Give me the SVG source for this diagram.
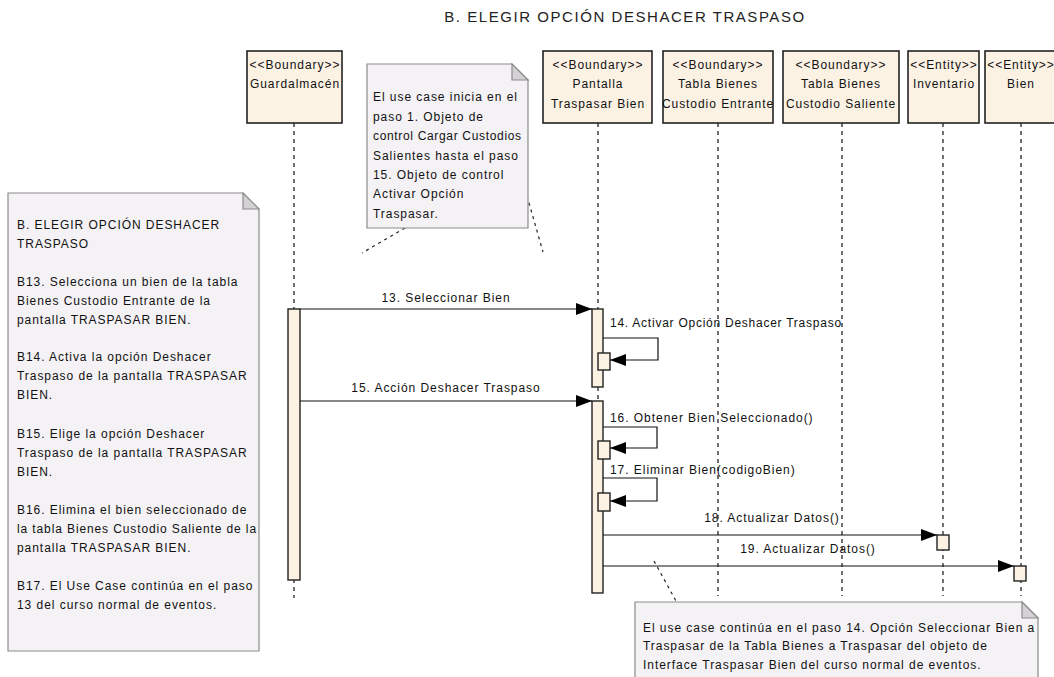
<svg xmlns="http://www.w3.org/2000/svg" width="1054" height="677" viewBox="0 0 1054 677">
  <style>
    text { font-family: "Liberation Sans", Arial, sans-serif; font-size: 12px; letter-spacing: 0.95px; fill: #111; }
    .title { font-size: 15px; letter-spacing: 1.55px; fill: #222; }
    .c { text-anchor: middle; }
    .head { fill: #FCF2E4; stroke: #222; stroke-width: 1.6; }
    .act { fill: #FCF2E4; stroke: #222; stroke-width: 1.4; }
    .life { stroke: #111; stroke-width: 1.2; stroke-dasharray: 4 4; fill: none; }
    .msg { stroke: #111; stroke-width: 1.2; fill: none; marker-end: url(#arrow); }
    .note { fill: #F4F2F5; stroke: #8C8C8C; stroke-width: 1.2; }
    .fold { fill: #D3D1D4; stroke: #8C8C8C; stroke-width: 1.2; }
    .anchor { stroke: #222; stroke-width: 1.2; stroke-dasharray: 3 4; fill: none; }
  </style>
  <defs>
    <marker id="arrow" viewBox="0 0 16 12" refX="16" refY="6" markerWidth="16" markerHeight="12" markerUnits="userSpaceOnUse" orient="auto">
      <path d="M0,0 L16,6 L0,12 z" fill="#000"/>
    </marker>
  </defs>

  <rect width="1054" height="677" fill="#FFFFFF"/>

  <text class="title c" x="625" y="22">B. ELEGIR OPCIÓN DESHACER TRASPASO</text>

  <!-- lifelines -->
  <g id="lifelines">
    <line class="life" x1="294" y1="123" x2="294" y2="598"/>
    <line class="life" x1="598" y1="123" x2="598" y2="594"/>
    <line class="life" x1="718" y1="123" x2="718" y2="596"/>
    <line class="life" x1="842" y1="123" x2="842" y2="596"/>
    <line class="life" x1="943" y1="123" x2="943" y2="596"/>
    <line class="life" x1="1021" y1="123" x2="1021" y2="596"/>
  </g>

  <!-- participants -->
  <g id="guardalmacen">
    <rect class="head" x="247" y="51" width="95" height="72"/>
    <text class="c" x="295" y="69">&lt;&lt;Boundary&gt;&gt;</text>
    <text class="c" x="295" y="88">Guardalmacén</text>
  </g>
  <g id="pantalla-traspasar-bien">
    <rect class="head" x="543" y="51" width="109" height="72"/>
    <text class="c" x="598" y="69">&lt;&lt;Boundary&gt;&gt;</text>
    <text class="c" x="598" y="88">Pantalla</text>
    <text class="c" x="598" y="108">Traspasar Bien</text>
  </g>
  <g id="tabla-custodio-entrante">
    <rect class="head" x="663" y="51" width="110" height="72"/>
    <text class="c" x="718" y="69">&lt;&lt;Boundary&gt;&gt;</text>
    <text class="c" x="718" y="88">Tabla Bienes</text>
    <text class="c" x="718" y="108">Custodio Entrante</text>
  </g>
  <g id="tabla-custodio-saliente">
    <rect class="head" x="783" y="51" width="116" height="72"/>
    <text class="c" x="841" y="69">&lt;&lt;Boundary&gt;&gt;</text>
    <text class="c" x="841" y="88">Tabla Bienes</text>
    <text class="c" x="841" y="108">Custodio Saliente</text>
  </g>
  <g id="inventario">
    <rect class="head" x="908" y="51" width="71" height="72"/>
    <text class="c" x="944" y="69">&lt;&lt;Entity&gt;&gt;</text>
    <text class="c" x="944" y="88">Inventario</text>
  </g>
  <g id="bien">
    <rect class="head" x="985" y="51" width="73" height="72"/>
    <text class="c" x="1021" y="69">&lt;&lt;Entity&gt;&gt;</text>
    <text class="c" x="1021" y="88">Bien</text>
  </g>

  <!-- activations -->
  <g id="activations">
    <rect class="act" x="288" y="309" width="12" height="271"/>
    <rect class="act" x="592" y="309" width="11" height="78"/>
    <rect class="act" x="592" y="401" width="11" height="192"/>
    <rect class="act" x="598" y="353" width="12" height="17"/>
    <rect class="act" x="598" y="441" width="12" height="18"/>
    <rect class="act" x="598" y="493" width="12" height="18"/>
    <rect class="act" x="937" y="535" width="12" height="15"/>
    <rect class="act" x="1014" y="566" width="12" height="15"/>
  </g>

  <!-- messages -->
  <g id="connectors">
    <line class="msg" x1="300" y1="309" x2="592" y2="309"/>
    <text class="c" x="446" y="302">13. Seleccionar Bien</text>

    <path class="msg" d="M603,338 H658 V360 H610"/>
    <text x="610" y="327" textLength="232">14. Activar Opción Deshacer Traspaso</text>

    <line class="msg" x1="300" y1="401" x2="592" y2="401"/>
    <text class="c" x="446" y="392">15. Acción Deshacer Traspaso</text>

    <path class="msg" d="M603,427 H657 V448 H610"/>
    <text x="610" y="422">16. Obtener Bien Seleccionado()</text>

    <path class="msg" d="M603,478 H657 V501 H610"/>
    <text x="610" y="474">17. Eliminar Bien(codigoBien)</text>

    <line class="msg" x1="603" y1="535" x2="937" y2="535"/>
    <text class="c" x="772" y="522">18. Actualizar Datos()</text>

    <line class="msg" x1="603" y1="566" x2="1014" y2="566"/>
    <text class="c" x="808" y="553">19. Actualizar Datos()</text>

    <!-- note anchors -->
    <line class="anchor" x1="405" y1="228" x2="362" y2="253"/>
    <line class="anchor" x1="527" y1="196" x2="543" y2="252"/>
    <line class="anchor" x1="654" y1="561" x2="676" y2="601"/>
  </g>

  <!-- notes -->
  <g id="note-flujo">
    <path class="note" d="M8,193 H243 L259,209 V651 H8 Z"/>
    <path class="fold" d="M243,193 V209 H259 Z"/>
    <text x="17" y="229">B. ELEGIR OPCIÓN DESHACER</text>
    <text x="17" y="248">TRASPASO</text>
    <text x="17" y="286">B13. Selecciona un bien de la tabla</text>
    <text x="17" y="305">Bienes Custodio Entrante de la</text>
    <text x="17" y="324">pantalla TRASPASAR BIEN.</text>
    <text x="17" y="361">B14. Activa la opción Deshacer</text>
    <text x="17" y="380">Traspaso de la pantalla TRASPASAR</text>
    <text x="17" y="399">BIEN.</text>
    <text x="17" y="438">B15. Elige la opción Deshacer</text>
    <text x="17" y="457">Traspaso de la pantalla TRASPASAR</text>
    <text x="17" y="476">BIEN.</text>
    <text x="17" y="514">B16. Elimina el bien seleccionado de</text>
    <text x="17" y="533" textLength="240">la tabla Bienes Custodio Saliente de la</text>
    <text x="17" y="552">pantalla TRASPASAR BIEN.</text>
    <text x="17" y="590">B17. El Use Case continúa en el paso</text>
    <text x="17" y="609">13 del curso normal de eventos.</text>
  </g>

  <g id="note-inicio">
    <path class="note" d="M367,64 H512 L528,80 V228 H367 Z"/>
    <path class="fold" d="M512,64 V80 H528 Z"/>
    <text x="373" y="101">El use case inicia en el</text>
    <text x="373" y="121">paso 1. Objeto de</text>
    <text x="373" y="140" textLength="149">control Cargar Custodios</text>
    <text x="373" y="160">Salientes hasta el paso</text>
    <text x="373" y="179">15. Objeto de control</text>
    <text x="373" y="198">Activar Opción</text>
    <text x="373" y="218">Traspasar.</text>
  </g>

  <g id="note-continua">
    <path class="note" d="M635,602 H1022 L1038,618 V690 H635 Z"/>
    <path class="fold" d="M1022,602 V618 H1038 Z"/>
    <text x="643" y="632">El use case continúa en el paso 14. Opción Seleccionar Bien a</text>
    <text x="643" y="650">Traspasar de la Tabla Bienes a Traspasar del objeto de</text>
    <text x="643" y="669">Interface Traspasar Bien del curso normal de eventos.</text>
  </g>
</svg>
